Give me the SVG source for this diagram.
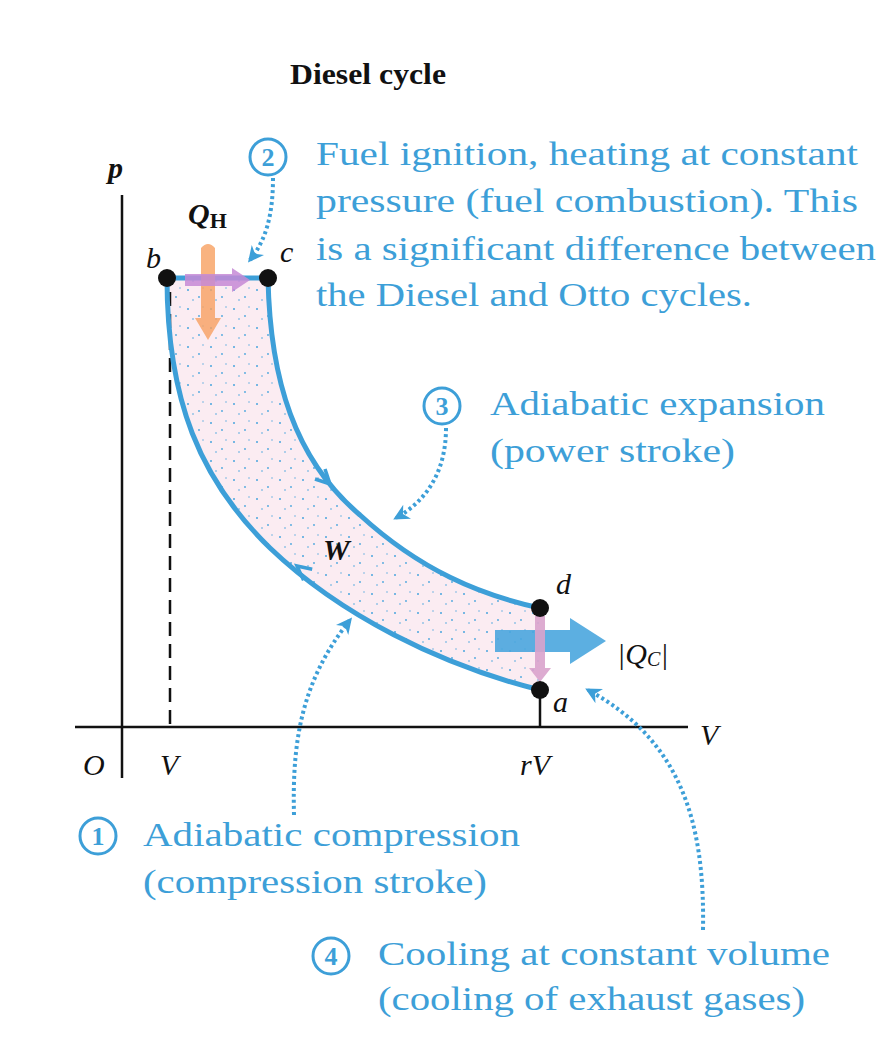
<svg xmlns="http://www.w3.org/2000/svg" width="881" height="1049" viewBox="0 0 881 1049">
<style>
.lbl{font-family:"Liberation Serif","DejaVu Serif",serif;fill:#3d9fd8;font-size:34px}
.num{font-family:"Liberation Serif","DejaVu Serif",serif;fill:#3d9fd8;font-size:26px;font-weight:bold;text-anchor:middle}
.ring{fill:none;stroke:#3d9fd8;stroke-width:3}
.math{font-family:"Liberation Serif","DejaVu Serif",serif;font-style:italic;fill:#111;font-size:30px}
.curve{fill:none;stroke:#3d9fd8;stroke-width:5;stroke-linecap:round}
.chev{fill:none;stroke:#3d9fd8;stroke-width:3.5;stroke-linejoin:miter}
.lead{fill:none;stroke:#3d9fd8;stroke-width:4;stroke-dasharray:3 3}
.axis{stroke:#111;stroke-width:2.5;fill:none}
.dot{fill:#111}
</style>
<defs>
<marker id="ah" viewBox="0 0 10 10" refX="8" refY="5" markerWidth="4" markerHeight="4" orient="auto" markerUnits="strokeWidth">
<path d="M0,0 L10,5 L0,10 L3,5 Z" fill="#3d9fd8"/>
</marker>
<pattern id="speck" width="23" height="19" patternUnits="userSpaceOnUse">
<rect width="23" height="19" fill="#fbecf2"/>
<circle cx="4" cy="5" r="1" fill="#4aa6de"/>
<circle cx="15" cy="12" r="0.9" fill="#4aa6de"/>
<circle cx="19" cy="3" r="0.7" fill="#4aa6de"/>
<circle cx="9" cy="15" r="0.8" fill="#4aa6de"/>
</pattern>
</defs>
<rect width="881" height="1049" fill="#fff"/>

<text x="368" y="84" text-anchor="middle" font-family="Liberation Serif,serif" font-weight="bold" font-size="30" fill="#111" textLength="156" lengthAdjust="spacingAndGlyphs">Diesel cycle</text>

<g id="region">
<path d="M167,278 C167,400 200,480 270,548 C340,615 440,665 540,690 L540,608 C480,595 420,570 360,515 C295,460 270,380 268,278 Z" fill="url(#speck)"/>
</g>

<g id="axes">
<line class="axis" x1="122" y1="195" x2="122" y2="778"/>
<line class="axis" x1="75" y1="727" x2="688" y2="727"/>
<line x1="170" y1="292" x2="170" y2="727" stroke="#111" stroke-width="2.5" stroke-dasharray="14 8"/>
<line class="axis" x1="540" y1="696" x2="540" y2="727"/>
<text class="math" x="108" y="178" font-weight="bold">p</text>
<text class="math" x="700" y="745">V</text>
<text class="math" x="83" y="775">O</text>
<text class="math" x="160" y="775">V</text>
<text class="math" x="520" y="775">rV</text>
</g>

<g id="connectors">
<path class="curve" d="M167,278 C167,400 200,480 270,548 C340,615 440,665 540,690"/>
<path class="curve" d="M268,278 C270,380 295,460 360,515 C420,570 480,595 540,608"/>
<line class="curve" x1="167" y1="278" x2="268" y2="278"/>
<path class="chev" d="M325,469 L330,484 L315,479"/>
<path class="chev" d="M303.6,580.2 L297,566 L312.2,569.2"/>
<path class="lead" d="M273,178 C273,215 266,240 250,260" marker-end="url(#ah)"/>
<path class="lead" d="M446,428 C446,470 428,500 396,518" marker-end="url(#ah)"/>
<path class="lead" d="M294,815 C292,740 302,680 350,620" marker-end="url(#ah)"/>
<path class="lead" d="M703,930 C705,820 680,740 588,690" marker-end="url(#ah)"/>
</g>

<g id="heat-in">
<path d="M201,248 Q208,240 215,248 L215,318 L221,318 L208,340 L195,318 L201,318 Z" fill="#f7a060" opacity="0.8"/>
<path d="M185,274 L232,274 L232,268 L250,280 L232,292 L232,286 L185,286 Z" fill="#c58ad6" opacity="0.85"/>
<text class="math" x="188" y="224" font-weight="bold">Q<tspan font-style="normal" font-size="22" dy="4">H</tspan></text>
</g>

<g id="heat-out">
<path d="M495,630 L570,630 L570,618 L606,641 L570,664 L570,652 L495,652 Z" fill="#4aa6de" opacity="0.9"/>
<path d="M535,616 L545,616 L545,668 L551,668 L540,682 L529,668 L535,668 Z" fill="#d9a3cc" opacity="0.9"/>
<text class="math" x="617" y="664" font-style="normal">|Q<tspan font-size="20" dy="2">C</tspan><tspan dy="-2">|</tspan></text>
</g>

<g id="W"><text class="math" x="323" y="560" font-weight="bold">W</text></g>

<g id="b"><circle class="dot" cx="167" cy="278" r="9"/><text class="math" x="146" y="268">b</text></g>
<g id="c"><circle class="dot" cx="268" cy="278" r="9"/><text class="math" x="280" y="262">c</text></g>
<g id="d"><circle class="dot" cx="540" cy="608" r="9"/><text class="math" x="556" y="594">d</text></g>
<g id="a"><circle class="dot" cx="540" cy="690" r="9"/><text class="math" x="553" y="712">a</text></g>

<g id="note2">
<circle class="ring" cx="268" cy="157" r="18"/><text class="num" x="268" y="166">2</text>
<text class="lbl" x="316" y="165" textLength="542" lengthAdjust="spacingAndGlyphs">Fuel ignition, heating at constant</text>
<text class="lbl" x="316" y="212" textLength="542" lengthAdjust="spacingAndGlyphs">pressure (fuel combustion).  This</text>
<text class="lbl" x="316" y="260" textLength="560" lengthAdjust="spacingAndGlyphs">is a significant difference between</text>
<text class="lbl" x="316" y="306" textLength="436" lengthAdjust="spacingAndGlyphs">the Diesel and Otto cycles.</text>
</g>
<g id="note3">
<circle class="ring" cx="442" cy="406" r="18"/><text class="num" x="442" y="415">3</text>
<text class="lbl" x="490" y="415" textLength="335" lengthAdjust="spacingAndGlyphs">Adiabatic expansion</text>
<text class="lbl" x="490" y="462" textLength="245" lengthAdjust="spacingAndGlyphs">(power stroke)</text>
</g>
<g id="note1">
<circle class="ring" cx="98" cy="836" r="18"/><text class="num" x="98" y="845">1</text>
<text class="lbl" x="143" y="846" textLength="377" lengthAdjust="spacingAndGlyphs">Adiabatic compression</text>
<text class="lbl" x="143" y="893" textLength="344" lengthAdjust="spacingAndGlyphs">(compression stroke)</text>
</g>
<g id="note4">
<circle class="ring" cx="331" cy="956" r="18"/><text class="num" x="331" y="965">4</text>
<text class="lbl" x="378" y="965" textLength="452" lengthAdjust="spacingAndGlyphs">Cooling at constant volume</text>
<text class="lbl" x="378" y="1010" textLength="427" lengthAdjust="spacingAndGlyphs">(cooling of exhaust gases)</text>
</g>
</svg>
